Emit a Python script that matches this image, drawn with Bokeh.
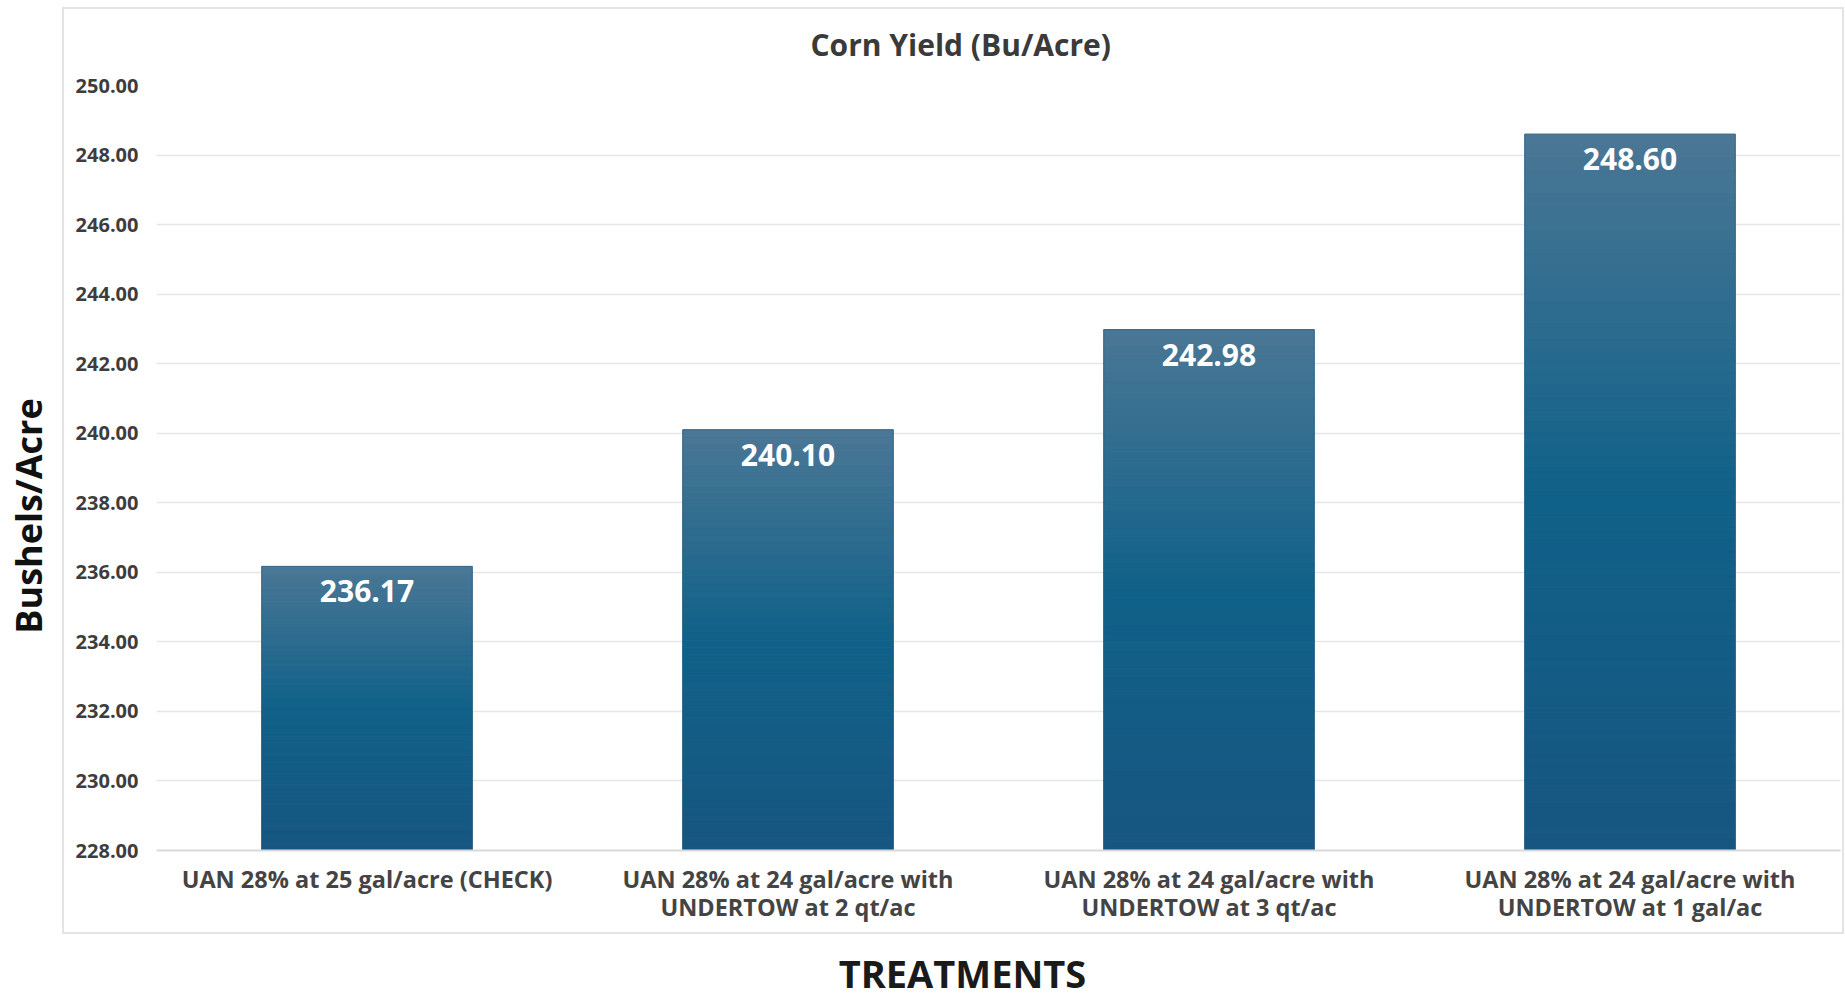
import numpy as np
from bokeh.plotting import figure
from bokeh.layouts import row, column
from bokeh.models import (ColumnDataSource, FactorRange, Title, InlineStyleSheet,
                          CustomJSTickFormatter)
from bokeh.core.properties import value
from bokeh.embed import file_html
from bokeh.resources import INLINE

# ---- data ----
categories = [
    "UAN 28% at 25 gal/acre (CHECK)",
    "UAN 28% at 24 gal/acre with\nUNDERTOW at 2 qt/ac",
    "UAN 28% at 24 gal/acre with\nUNDERTOW at 3 qt/ac",
    "UAN 28% at 24 gal/acre with\nUNDERTOW at 1 gal/ac",
]
yields = [236.17, 240.10, 242.98, 248.60]
value_labels = ["236.17", "240.10", "242.98", "248.60"]
y_ticks = [228, 230, 232, 234, 236, 238, 240, 242, 244, 246, 248, 250]
title_text = "Corn Yield (Bu/Acre)"
x_title = "TREATMENTS"
y_title = "Bushels/Acre"

Y_MIN, Y_MAX = 228, 250
FONT = "Open Sans"

LEFT_W = 60       # strip holding the y-axis title
MAIN_W, MAIN_H = 1785, 940
BOTTOM_H = 60     # strip holding the x-axis title

box_css = InlineStyleSheet(css="""
:host { position: relative; }
:host::after {
  content: '';
  position: absolute;
  left: 2px; top: 7px; width: 1782px; height: 927px;
  border: 2px solid #e4e4e4;
  box-sizing: border-box;
  pointer-events: none;
}
""")

p = figure(
    x_range=FactorRange(factors=categories, range_padding=0),
    y_range=(Y_MIN, Y_MAX),
    width=MAIN_W, height=MAIN_H,
    output_backend="svg", toolbar_location=None,
    min_border_left=96, min_border_right=5, min_border_top=85, min_border_bottom=90,
)
p.stylesheets = [box_css]
p.background_fill_color = "white"
p.border_fill_color = "white"
p.outline_line_color = None

# gradient bars built from slices of each bar's own height
stops_t = [0.0, 0.5, 1.0]
stops_c = [(0x4b, 0x77, 0x95), (0x10, 0x61, 0x89), (0x17, 0x56, 0x81)]


def grad(t):
    r = int(round(np.interp(t, stops_t, [c[0] for c in stops_c])))
    g = int(round(np.interp(t, stops_t, [c[1] for c in stops_c])))
    b = int(round(np.interp(t, stops_t, [c[2] for c in stops_c])))
    return "#%02x%02x%02x" % (r, g, b)


N = 60
xs, tops, bottoms, cols = [], [], [], []
for cat, v in zip(categories, yields):
    h = v - Y_MIN
    for k in range(N):
        t0 = k / N
        t1 = (k + 1) / N
        xs.append(cat)
        tops.append(v - h * t0)
        bottoms.append(v - h * t1)
        cols.append(grad((t0 + t1) / 2))
src = ColumnDataSource(dict(x=xs, top=tops, bottom=bottoms, c=cols))
p.vbar(x="x", top="top", bottom="bottom", width=0.5, source=src,
       fill_color="c", line_color="c", line_width=1)
p.vbar(x=categories, top=yields, bottom=Y_MIN, width=0.5,
       fill_color=None, line_color="#2d5f80", line_width=1, line_alpha=0.6)

# value labels
p.text(x=categories, y=yields, text=value_labels, y_offset=25,
       text_align="center", text_baseline="middle",
       text_color="white", text_font=value(FONT), text_font_style="bold",
       text_font_size="30px")

# axes
p.yaxis.ticker = y_ticks
p.yaxis.formatter = CustomJSTickFormatter(code="return tick.toFixed(2);")
p.yaxis.axis_line_color = None
p.yaxis.major_tick_line_color = None
p.yaxis.minor_tick_line_color = None
p.yaxis.major_label_standoff = 12
p.yaxis.major_label_text_font = FONT
p.yaxis.major_label_text_font_style = "bold"
p.yaxis.major_label_text_font_size = "20px"
p.yaxis.major_label_text_color = "#3d3d3d"

p.xaxis.axis_line_color = "#d9d9d9"
p.xaxis.axis_line_width = 2
p.xaxis.major_tick_line_color = None
p.xaxis.minor_tick_line_color = None
p.xaxis.major_label_standoff = 6
p.xaxis.major_label_text_font = FONT
p.xaxis.major_label_text_font_style = "bold"
p.xaxis.major_label_text_font_size = "23.5px"
p.xaxis.major_label_text_color = "#444444"
p.xaxis.major_label_text_line_height = 0.875

p.xgrid.grid_line_color = None
p.ygrid.grid_line_color = "#e6e6e6"
p.ygrid.grid_line_width = 1.5

# chart title
p.add_layout(Title(text=title_text, align="left", offset=654, standoff=42,
                   text_font=FONT, text_font_style="bold", text_font_size="30px",
                   text_color="#3a3a3a"), "above")


def strip(w, h):
    f = figure(width=w, height=h, x_range=(0, w), y_range=(0, h),
               output_backend="svg", toolbar_location=None,
               x_axis_location=None, y_axis_location=None,
               min_border=0, min_border_left=0, min_border_right=0,
               min_border_top=0, min_border_bottom=0)
    f.outline_line_color = None
    f.grid.grid_line_color = None
    f.background_fill_color = "white"
    f.border_fill_color = "white"
    return f


# y-axis title strip (left)
left = strip(LEFT_W, MAIN_H)
left.text(x=[28], y=[MAIN_H - 529], text=[y_title], angle=np.pi / 2,
          text_align="center", text_baseline="middle",
          text_font=value(FONT), text_font_style="bold", text_font_size="36px",
          text_color="#111111")

# x-axis title strip (bottom)
total_w = LEFT_W + MAIN_W
bottom = strip(total_w, BOTTOM_H)
bottom.text(x=[962], y=[2], text=[x_title],
            text_align="center", text_baseline="bottom",
            text_font=value(FONT), text_font_style="bold", text_font_size="38px",
            text_color="#1a1a1a")

layout = column(row(left, p, spacing=0), bottom, spacing=0)

open("out.html", "w").write(file_html(layout, INLINE))
